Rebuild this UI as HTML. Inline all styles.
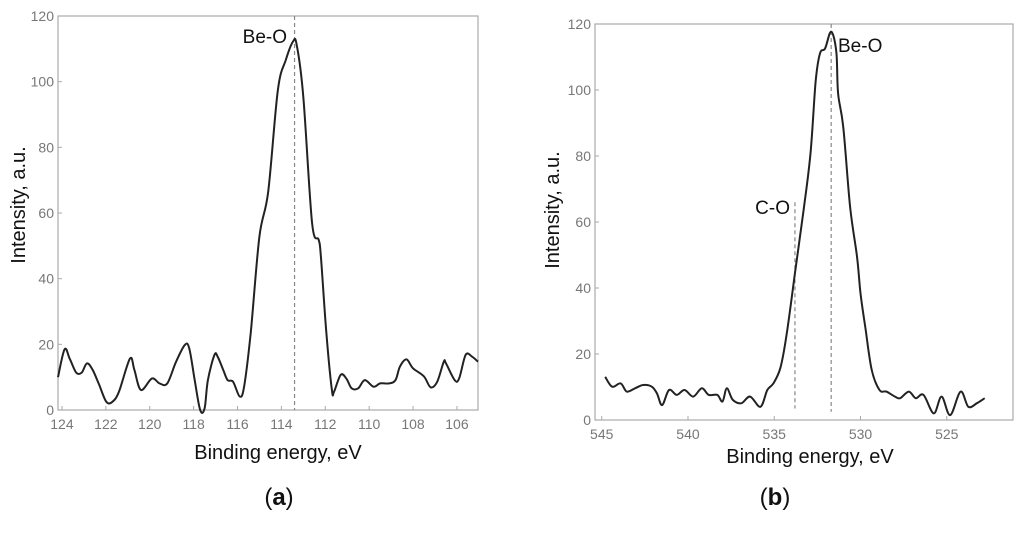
<!DOCTYPE html>
<html><head><meta charset="utf-8"><style>
body{margin:0;background:#fff;width:1024px;height:529px;overflow:hidden;font-family:"Liberation Sans",sans-serif}
svg text{font-family:"Liberation Sans",sans-serif}
</style></head><body>
<svg id="c" width="1024" height="529"></svg>
<script>
const aEnergy=[124.18,123.88,123.65,123.35,123.1,122.86,122.6,122.3,121.98,121.7,121.4,120.9,120.7,120.4,119.9,119.55,119.2,118.8,118.4,118.2,117.95,117.7,117.5,117.35,117.05,116.9,116.65,116.45,116.2,115.9,115.7,115.4,115.0,114.6,114.16,113.8,113.47,113.3,113.0,112.6,112.3,112.2,111.95,111.7,111.6,111.3,111.04,110.8,110.5,110.2,109.8,109.5,109.1,108.8,108.6,108.3,108.0,107.5,107.2,106.9,106.6,106.5,106.1,105.9,105.6,105.3,105.04];
const aIntensity=[10,18.5,15.7,11.4,11.4,14.2,12.2,7.6,2.5,2.5,5.6,15.7,12.2,6.1,9.6,8.1,8.1,14.7,19.8,18.8,9.1,0,0.5,9.1,16.8,16.2,12.2,9.1,8.6,4.1,7.1,23.4,52.8,66.5,97.5,106.6,112.2,111.2,95.4,56.9,51.8,46.7,23.4,6.1,5.6,10.7,9.6,6.6,6.6,9.1,7.1,8.1,8.1,9.1,13.2,15.4,12.7,10.2,6.9,8.6,14.7,14.2,9.1,9.6,16.8,16.2,14.7];
const aXTicks=[124,122,120,118,116,114,112,110,108,106];
const bEnergy=[544.8,544.4,543.9,543.55,543.07,542.6,542.1,541.8,541.5,541.1,540.65,540.2,539.7,539.2,538.8,538.3,538.0,537.75,537.4,536.9,536.4,535.8,535.4,535.05,534.65,534.3,533.8,533.3,532.9,532.6,532.35,532.05,531.7,531.4,531.3,531.0,530.6,530.2,530.0,529.7,529.35,528.9,528.5,528.0,527.7,527.2,526.8,526.35,525.75,525.3,524.8,524.2,523.75,523.25,522.8];
const bIntensity=[13.1,10.1,11.1,8.6,9.6,10.6,10.1,8.1,4.5,9.1,7.6,9.1,7.1,9.6,7.6,7.6,5.6,9.6,6.1,5.1,7.1,4.0,9.1,11.1,15.7,25.3,44.4,63.6,80.8,102.5,111.1,112.6,117.7,111.6,99,88.9,64.6,49.5,38.4,27.3,15.2,9.1,8.6,7.1,6.6,8.6,6.6,7.6,2.0,7.1,1.5,8.6,4.0,5.1,6.6];
const bXTicks=[545,540,535,530,525];
const yTicks=[0,20,40,60,80,100,120];

const svg=document.getElementById('c');const NS='http://www.w3.org/2000/svg';
function mk(t,a,p){const e=document.createElementNS(NS,t);for(const k in a)e.setAttribute(k,a[k]);(p||svg).appendChild(e);return e;}
function smooth(pts){
  let d='M'+pts[0][0].toFixed(1)+','+pts[0][1].toFixed(1);
  for(let i=0;i<pts.length-1;i++){
    const p0=pts[Math.max(0,i-1)],p1=pts[i],p2=pts[i+1],p3=pts[Math.min(pts.length-1,i+2)];
    const c1=[p1[0]+(p2[0]-p0[0])/6,p1[1]+(p2[1]-p0[1])/6];
    const c2=[p2[0]-(p3[0]-p1[0])/6,p2[1]-(p3[1]-p1[1])/6];
    d+=' C'+c1.map(v=>v.toFixed(1))+' '+c2.map(v=>v.toFixed(1))+' '+p2.map(v=>v.toFixed(1));
  }
  return d;
}
function panel(cfg){
  const g=mk('g',{});
  
  
  const {L,R,T,B,x0,x1}=cfg;
  const X=v=>L+(v-x0)/(x1-x0)*(R-L);
  const Y=v=>B-v/120*(B-T);
  const fr=mk('rect',{x:L,y:T,width:R-L,height:B-T,fill:'none',stroke:'#aaa','stroke-width':1.2},g);
  
  
  yTicks.forEach(v=>{
    const t=mk('text',{x:L-4,y:Y(v)+5,'text-anchor':'end','font-size':14,fill:'#777'},g);t.textContent=v;
    
    
    mk('line',{x1:L,x2:L+4,y1:Y(v),y2:Y(v),stroke:'#aaa'},g);
  });
  cfg.xt.forEach(v=>{
    const t=mk('text',{x:X(v),y:B+19,'text-anchor':'middle','font-size':14,fill:'#777'},g);t.textContent=v;
    
    
    mk('line',{x1:X(v),x2:X(v),y1:B,y2:B-4,stroke:'#aaa'},g);
  });
  cfg.refs.forEach(r=>{
    const l=mk('line',{x1:X(r.x),x2:X(r.x),y1:Y(r.top),y2:Y(r.bot),stroke:'#888','stroke-width':1.2,'stroke-dasharray':'4,3'},g);
    
    
    const t=mk('text',{x:r.tx,y:r.ty,'text-anchor':r.anchor,'font-size':19,fill:'#111'},g);t.textContent=r.label;
    
    
  });
  const pts=cfg.xs.map((v,i)=>[X(v),Y(cfg.ys[i])]);
  const p=mk('path',{d:smooth(pts),fill:'none',stroke:'#222','stroke-width':2,'stroke-linejoin':'round'},g);
  
  
  const yt=mk('text',{x:cfg.yx,y:cfg.yy,'text-anchor':'middle','font-size':20,fill:'#111',transform:`rotate(-90 ${cfg.yx} ${cfg.yy})`},g);yt.textContent='Intensity, a.u.';
  
  
  const xt=mk('text',{x:cfg.xx,y:cfg.xy,'text-anchor':'middle','font-size':20,fill:'#111'},g);xt.textContent='Binding energy, eV';
  
  
  const cap=mk('text',{x:cfg.cx,y:505,'text-anchor':'middle','font-size':24,fill:'#111','font-family':'Liberation Serif'},g);
  cap.innerHTML='(<tspan font-weight="bold">'+cfg.cap+'</tspan>)';
  
  
}
panel({name:'chart-a',L:58,R:478,T:16,B:410,x0:124.18,x1:105.04,xt:aXTicks,xs:aEnergy,ys:aIntensity,
  refs:[{x:113.4,top:120,bot:0,label:'Be-O',tx:287,ty:43,anchor:'end'}],yx:25,yy:205,xx:278,xy:459,cx:279,cap:'a'});
panel({name:'chart-b',L:595,R:1013,T:24,B:420,x0:545.39,x1:521.16,xt:bXTicks,xs:bEnergy,ys:bIntensity,
  refs:[{x:533.8,top:66,bot:3.5,label:'C-O',tx:790,ty:214,anchor:'end'},{x:531.7,top:120,bot:2.5,label:'Be-O',tx:838,ty:52,anchor:'start'}],yx:559,yy:210,xx:810,xy:463,cx:775,cap:'b'});
</script>
</body></html>
